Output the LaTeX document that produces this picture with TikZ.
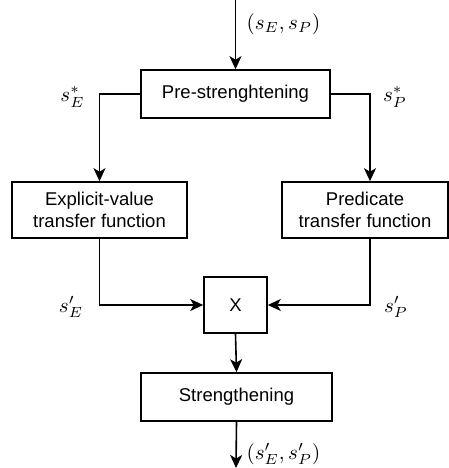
\documentclass[tikz,border=0pt]{standalone}
\usepackage{fontspec}
\setmainfont{Liberation Sans}
\usetikzlibrary{arrows.meta}
\newcommand{\lblmath}[1]{\scalebox{2.1}{$#1$}}
\begin{document}
\begin{tikzpicture}[x=1pt,y=-1pt,
  box/.style={draw,line width=1.6pt,inner sep=0pt,align=center,font=\fontsize{18.5}{21.7}\selectfont},
  arr/.style={line width=1.6pt,-{Stealth[length=13pt,width=12pt,inset=3.5pt]}},
  lbl/.style={inner sep=0pt}]
\useasboundingbox (0,0) rectangle (449,468);
\node[box,minimum width=189pt,minimum height=48pt] (pre) at (235.5,94) {Pre-strenghtening};
\node[box,minimum width=175pt,minimum height=56pt] (expl) at (99.5,210) {Explicit-value\\transfer function};
\node[box,minimum width=166pt,minimum height=56pt] (pred) at (365,210) {Predicate\\transfer function};
\node[box,minimum width=63pt,minimum height=56pt] (x) at (235.5,305) {X};
\node[box,minimum width=191pt,minimum height=48pt] (str) at (236.5,397) {Strengthening};
\coordinate (top) at (235.5,0);
\coordinate (bot) at (236,468);
\draw[arr] (top) -- (pre.north);
\draw[arr] (pre.west) -| (expl.north);
\draw[arr] (pre.east) -| ([xshift=5pt]pred.north);
\draw[arr] (expl.south) |- (x.west);
\draw[arr] ([xshift=5pt]pred.south) |- (x.east);
\draw[arr] (x.south) -- (str.north);
\draw[arr] (str.south) -- (bot);
\node[lbl] (l1) at (283.5,24) {\lblmath{(s_E,s_P)}};
\node[lbl] (l2) at (72.5,97) {\lblmath{s^*_E}};
\node[lbl] (l3) at (395,97) {\lblmath{s^*_P}};
\node[lbl] (l4) at (71,307) {\lblmath{s'_E}};
\node[lbl] (l5) at (396,307) {\lblmath{s'_P}};
\node[lbl] (l6) at (283.5,454) {\lblmath{(s'_E,s'_P)}};
\end{tikzpicture}
\end{document}
